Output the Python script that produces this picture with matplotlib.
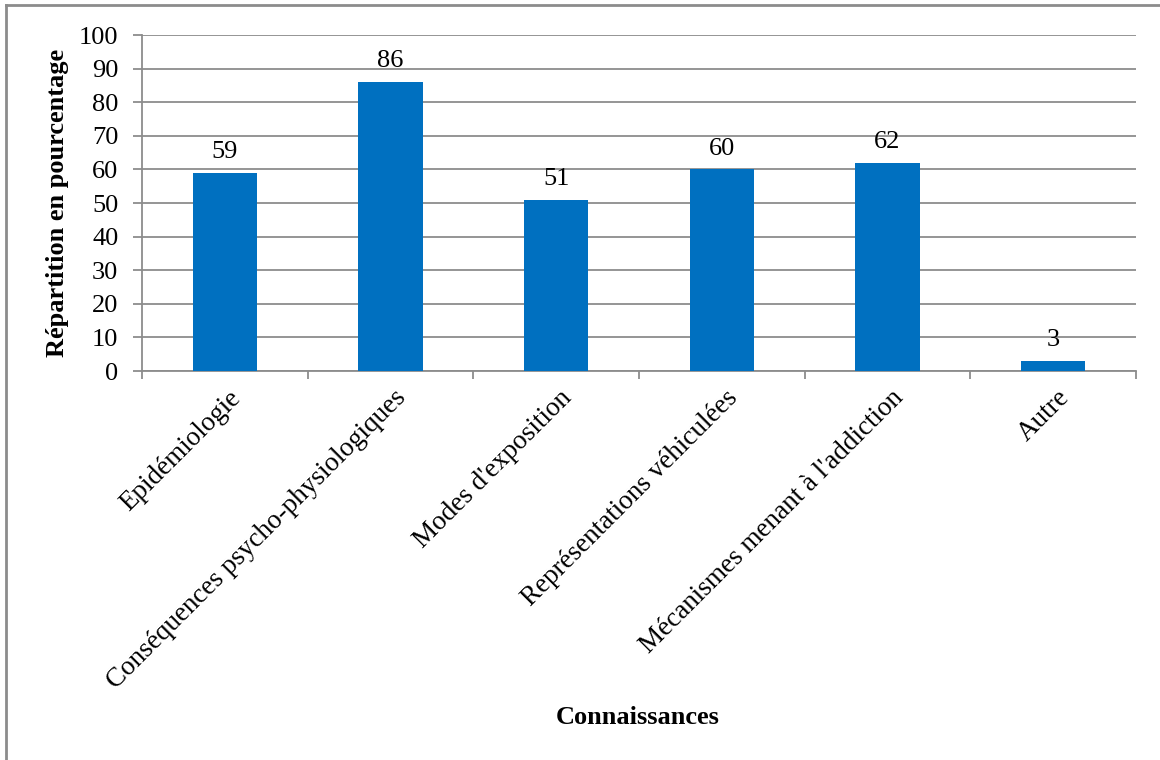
import matplotlib.pyplot as plt
from matplotlib.lines import Line2D
import numpy as np

# data
categories = ["Epidémiologie", "Conséquences psycho-physiologiques", "Modes d'exposition",
              "Représentations véhiculées", "Mécanismes menant à l'addiction", "Autre"]
values = [59, 86, 51, 60, 62, 3]

plt.rcParams['font.family'] = ['Liberation Serif', 'DejaVu Serif']

fig = plt.figure(figsize=(11.6, 7.6), dpi=100)
ax = fig.add_axes([142/1160, 1-371/760, (1136-142)/1160, (371-35)/760])

grey = '#8c8c8c'
fs = 19
x = np.arange(len(categories))
ax.bar(x, values, width=0.39, color='#0070C0', zorder=3)

for xi, v in zip(x, values):
    ax.annotate(str(v), (xi, v), xytext=(0, 7), textcoords='offset points',
                ha='center', va='bottom', fontsize=fs)

ax.set_xlim(-0.5, len(categories) - 0.5)
ax.set_ylim(0, 100)
ax.set_yticks(range(0, 101, 10))
ax.tick_params(axis='y', labelsize=fs, length=6.5, color=grey, width=1.3, pad=10.5)
ax.yaxis.grid(True, color=grey, linewidth=1.3, zorder=0)

# category boundaries as ticks, labels at centres
ax.set_xticks(np.arange(-0.5, len(categories), 1.0))
ax.set_xticklabels([])
ax.tick_params(axis='x', length=5.5, color=grey, width=1.3)
for xi, lab in zip(x, categories):
    ax.text(xi + 0.02, -4.3, lab, rotation=45, rotation_mode='anchor',
            ha='right', va='top', fontsize=19.5)

for s in ['top', 'right']:
    ax.spines[s].set_visible(False)
ax.spines['left'].set_color(grey)
ax.spines['bottom'].set_color(grey)
ax.spines['left'].set_linewidth(1.3)
ax.spines['bottom'].set_linewidth(1.3)

ax.set_ylabel("Répartition en pourcentage", fontsize=fs, fontweight='bold', labelpad=7)
fig.text(638/1160, 1-718/760, "Connaissances", fontsize=fs, fontweight='bold',
         ha='center', va='center')

# chart area border
fig.add_artist(Line2D([6/1160, 6/1160], [0, 1-5/760], color=grey, linewidth=2))
fig.add_artist(Line2D([6/1160, 1], [1-5/760, 1-5/760], color=grey, linewidth=2))

fig.savefig('out.png', dpi=100)
